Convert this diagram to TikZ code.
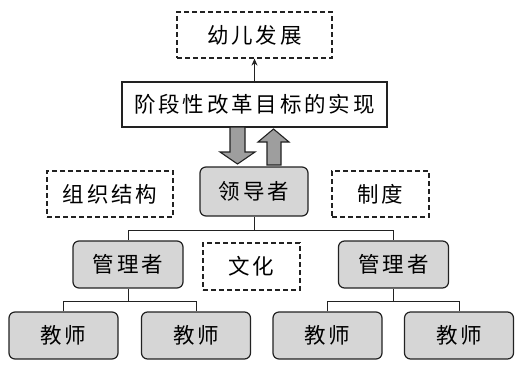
\documentclass[tikz,border=0pt]{standalone}
\usepackage{fontspec}
\newfontfamily\cjk{Noto Sans CJK SC}[LetterSpace=13]
\usepackage{tikz}
\usetikzlibrary{arrows.meta,positioning}
\definecolor{boxGray}{HTML}{D6D6D6}
\definecolor{arrGray}{HTML}{9E9E9E}
\definecolor{lineDark}{HTML}{222222}

\begin{document}
\begin{tikzpicture}[x=1pt, y=-1pt,
  goalbox/.style={draw=lineDark, line width=1.6pt, fill=white,
                  font=\fontsize{21.5}{24}\cjk, minimum width=265pt,
                  minimum height=45pt, inner sep=2pt},
  role/.style={draw=lineDark, line width=1.2pt, fill=boxGray, rounded corners=6pt,
               font=\fontsize{21.5}{24}\cjk, minimum height=47pt, inner sep=2pt},
  factor/.style={draw=lineDark, line width=1.2pt, dash pattern=on 5pt off 3pt,
                 font=\fontsize{21.5}{24}\cjk, minimum height=46pt, inner sep=2pt},
  blockarr/.style={draw=lineDark, line width=1.1pt, fill=arrGray},
  tree/.style={draw=lineDark, line width=1pt},
  arr/.style={-{Stealth[length=7pt,width=6pt]}, lineDark, line width=1pt}
]
\useasboundingbox (0,0) rectangle (518,367);
% top row
\node[factor, minimum width=155pt] (child) at (254.5,35)  {幼儿发展};
\node[goalbox]                     (goal)  at (254.5,104.5) {阶段性改革目标的实现};
% middle row
\node[role, minimum width=108pt, minimum height=49pt] (lead) at (254,191.5) {领导者};
\node[factor, minimum width=126pt] (org)   at (110,194)   {组织结构};
\node[factor, minimum width=97pt]  (rule)  at (380.5,194) {制度};
% managers
\node[role, minimum width=110pt] (mgrL) at (128,264.5)   {管理者};
\node[factor, minimum width=97pt, minimum height=47pt] (culture) at (251.5,266.5) {文化};
\node[role, minimum width=110pt] (mgrR) at (393.5,264.5) {管理者};
% teachers
\node[role, minimum width=109pt] (tchA) at (63.5,335.5)  {教师};
\node[role, minimum width=109pt] (tchB) at (196,335.5)   {教师};
\node[role, minimum width=109pt] (tchC) at (327.5,335.5) {教师};
\node[role, minimum width=109pt] (tchD) at (459,335.5)   {教师};

\draw[arr] (goal.north) -- (child.south);
% block arrows between goal and leader
\draw[blockarr] (230,127) -- (245,127) -- (245,152) -- (255,152) -- (237.5,164)
  -- (220,152) -- (230,152) -- cycle;
\draw[blockarr] (267,165) -- (281,165) -- (281,142) -- (289,142) -- (273.5,129)
  -- (258,142) -- (267,142) -- cycle;
% tree lines
\draw[tree] (lead.south) -- ++(0,14) coordinate (jLead);
\draw[tree] (mgrL.north) |- (jLead) -| (mgrR.north);
\draw[tree] (mgrL.south) -- ++(0,13) coordinate (jL);
\draw[tree] (tchA.north) |- (jL) -| (tchB.north);
\draw[tree] (mgrR.south) -- ++(0,13) coordinate (jR);
\draw[tree] (tchC.north) |- (jR) -| (tchD.north);
\end{tikzpicture}
\end{document}
